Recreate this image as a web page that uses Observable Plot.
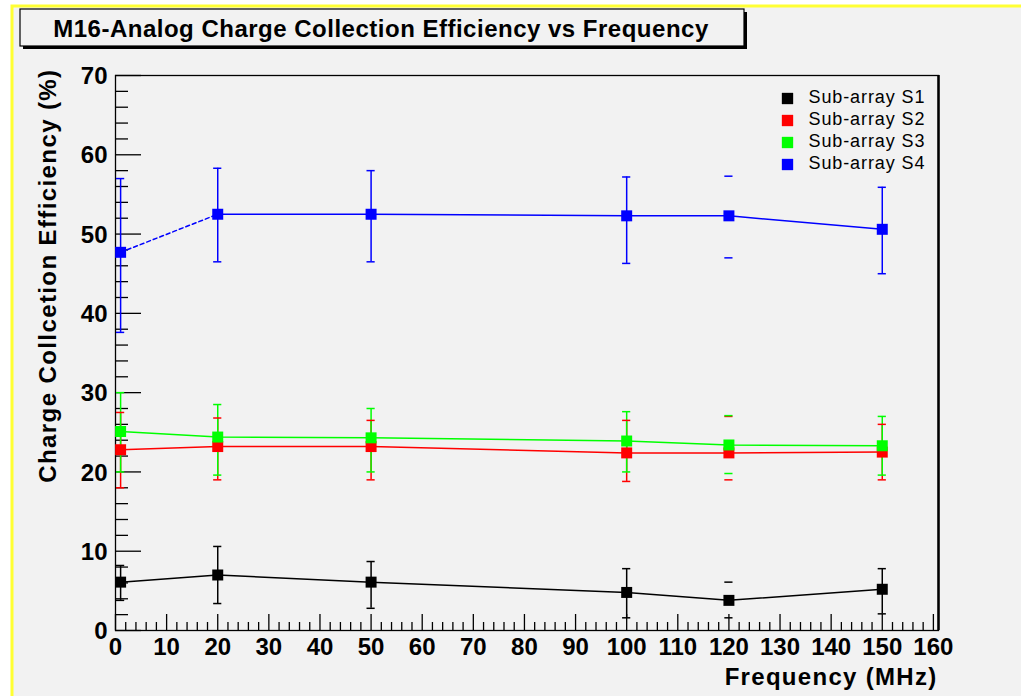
<!DOCTYPE html>
<html>
<head>
<meta charset="utf-8">
<script src="https://cdn.jsdelivr.net/npm/d3@7"></script>
<script src="https://cdn.jsdelivr.net/npm/@observablehq/plot@0.6"></script>
<style>
  html, body { margin: 0; padding: 0; background: #ffffff; }
  #chart svg { display: block; }
</style>
</head>
<body>
<div id="chart"></div>
<script>
// ---- data ----
const freq = [1, 20, 50, 100, 120, 150];
const seriesNames = ["Sub-array S1", "Sub-array S2", "Sub-array S3", "Sub-array S4"];
const seriesColors = ["#000000", "#ff0000", "#00ff00", "#0000ff"];

const s1 = [6.1, 7.0, 6.1, 4.8, 3.8, 5.2];
const s1Lo = [3.8, 3.4, 2.8, 1.6, 1.6, 2.1];
const s1Hi = [8.2, 10.6, 8.7, 7.8, 6.1, 7.8];

const s2 = [22.8, 23.2, 23.2, 22.4, 22.4, 22.5];
const s2Lo = [18.0, 19.0, 19.0, 18.8, 19.0, 19.0];
const s2Hi = [27.5, 26.8, 26.5, 26.5, 27.0, 26.0];

const s3 = [25.1, 24.4, 24.3, 23.9, 23.4, 23.3];
const s3Lo = [20.0, 19.6, 20.0, 20.0, 19.8, 19.6];
const s3Hi = [30.0, 28.5, 28.0, 27.6, 27.1, 27.0];

const s4 = [47.7, 52.5, 52.5, 52.3, 52.3, 50.6];
const s4Lo = [37.6, 46.5, 46.5, 46.3, 47.0, 45.0];
const s4Hi = [57.0, 58.3, 58.0, 57.2, 57.3, 55.9];

const xMajorTicks = d3.range(0, 161, 10);
const xMinorTicks = d3.range(0, 161, 2).filter(v => v % 10 !== 0);
const yMajorTicks = d3.range(0, 71, 10);
const yMinorTicks = d3.range(0, 71, 2).filter(v => v % 10 !== 0);

const titleText = "M16-Analog Charge Collection Efficiency vs Frequency";
const xLabel = "Frequency (MHz)";
const yLabel = "Charge Collcetion Efficiency (%)";

// ---- build table ----
const allVals = [[s1, s1Lo, s1Hi], [s2, s2Lo, s2Hi], [s3, s3Lo, s3Hi], [s4, s4Lo, s4Hi]];
const rows = [];
allVals.forEach(([v, lo, hi], i) => {
  freq.forEach((f, j) => rows.push({series: seriesNames[i], x: f, y: v[j], lo: lo[j], hi: hi[j]}));
});

const W = 1021, H = 696;
const mL = 115, mR = 83, mT = 75, mB = 66;
const frameW = W - mL - mR, frameH = H - mT - mB;
const font = "'Liberation Sans', Arial, Helvetica, sans-serif";

const color = {domain: seriesNames, range: seriesColors};

const blueRows = rows.filter(d => d.series === "Sub-array S4");
const otherLineRows = rows.filter(d => d.series !== "Sub-array S4");

const marks = [
  // frame
  Plot.frame({stroke: "#000", strokeWidth: 1.3}),
  Plot.ruleX([161], {stroke: "#000", strokeWidth: 2.5}),
  // axis ticks drawn inside the frame
  Plot.tickX(xMajorTicks, {x: d => d, insetTop: frameH - 16, stroke: "#000", strokeWidth: 1.3}),
  Plot.tickX(xMinorTicks, {x: d => d, insetTop: frameH - 8, stroke: "#000", strokeWidth: 1.3}),
  Plot.tickY(yMajorTicks, {y: d => d, insetRight: frameW - 26, stroke: "#000", strokeWidth: 1.3}),
  Plot.tickY(yMinorTicks, {y: d => d, insetRight: frameW - 13, stroke: "#000", strokeWidth: 1.3}),
  // tick labels
  Plot.text(xMajorTicks, {x: d => d, y: 0, dy: 17, text: d => String(d), fontSize: 24, fontWeight: "bold", fontFamily: font, fill: "#000"}),
  Plot.text(yMajorTicks, {x: 0, y: d => d, dx: -8, dy: 1, text: d => String(d), textAnchor: "end", fontSize: 24, fontWeight: "bold", fontFamily: font, fill: "#000"}),
  // connecting lines
  Plot.line(otherLineRows, {x: "x", y: "y", z: "series", stroke: "series", strokeWidth: 1.5}),
  Plot.line(blueRows.filter(d => d.x >= 20), {x: "x", y: "y", stroke: "series", strokeWidth: 1.5}),
  Plot.line(blueRows.filter(d => d.x <= 20), {x: "x", y: "y", stroke: "series", strokeWidth: 1.5, strokeDasharray: "4,3"}),
  // error bars (vertical part is not drawn at 120 MHz in the reference)
  Plot.ruleX(rows.filter(d => d.x !== 120), {x: "x", y1: "lo", y2: "hi", stroke: "series", strokeWidth: 1.5}),
  Plot.ruleY(rows, {y: "lo", x1: d => d.x - 0.8, x2: d => d.x + 0.8, stroke: "series", strokeWidth: 1.5}),
  Plot.ruleY(rows, {y: "hi", x1: d => d.x - 0.8, x2: d => d.x + 0.8, stroke: "series", strokeWidth: 1.5}),
  // markers
  Plot.dot(rows, {x: "x", y: "y", symbol: "square", r: 6.2, fill: "series", stroke: "none"}),
  // axis titles
  Plot.text([xLabel], {frameAnchor: "bottom-right", dx: -1, dy: 47, text: d => d, textAnchor: "end", lineAnchor: "middle", fontSize: 24, fontWeight: "bold", fontFamily: font, fill: "#000", style: "letter-spacing:1.3px"}),
  Plot.text([yLabel], {frameAnchor: "top-left", dx: -67, dy: -7, rotate: -90, text: d => d, textAnchor: "end", lineAnchor: "middle", fontSize: 24, fontWeight: "bold", fontFamily: font, fill: "#000"})
];

// legend
seriesNames.forEach((name, i) => {
  marks.push(Plot.dot([name], {frameAnchor: "top-right", dx: -151, dy: 23 + i * 22, symbol: "square", r: 6.4, fill: d => d, stroke: "none"}));
  marks.push(Plot.text([name], {frameAnchor: "top-right", dx: -130, dy: 22 + i * 22, text: d => d, textAnchor: "start", lineAnchor: "middle", fontSize: 18, fontFamily: font, fill: "#000"}));
});

const chart = Plot.plot({
  width: W, height: H,
  marginLeft: mL, marginRight: mR, marginTop: mT, marginBottom: mB,
  style: {background: "#f2f2f2", fontFamily: font, overflow: "visible"},
  x: {domain: [0, 161], axis: null},
  y: {domain: [0, 70], axis: null},
  color: color,
  marks
});

const svg = d3.select(chart);
// letter spacing on wide texts
svg.selectAll("text").each(function() {
  const t = this.textContent;
  if (t === yLabel) d3.select(this).style("letter-spacing", "1.4px");
  if (t === xLabel) d3.select(this).style("letter-spacing", "1.3px");
  if (seriesNames.includes(t)) d3.select(this).style("letter-spacing", "0.9px");
});

// outer white strip + yellow border
const deco = svg.insert("g", ":first-child");
deco.append("rect").attr("x", 0).attr("y", 0).attr("width", W).attr("height", H).attr("fill", "#ffffff");
deco.append("rect").attr("x", 12).attr("y", 6).attr("width", W + 20).attr("height", H).attr("fill", "#f2f2f2")
  .attr("stroke", "#ffff33").attr("stroke-width", 3);

// title box with shadow
const tb = svg.append("g");
tb.append("rect").attr("x", 23).attr("y", 12).attr("width", 724).attr("height", 37).attr("fill", "#000");
tb.append("rect").attr("x", 20).attr("y", 9).attr("width", 724).attr("height", 37).attr("fill", "#f2f2f2").attr("stroke", "#000").attr("stroke-width", 1.2);
tb.append("text").attr("x", 381).attr("y", 28).attr("dy", "0.36em").attr("text-anchor", "middle")
  .attr("font-family", font).attr("font-weight", "bold").attr("font-size", 24).attr("fill", "#000")
  .style("letter-spacing", "0.5px").text(titleText);

document.getElementById("chart").appendChild(chart);
</script>
</body>
</html>
